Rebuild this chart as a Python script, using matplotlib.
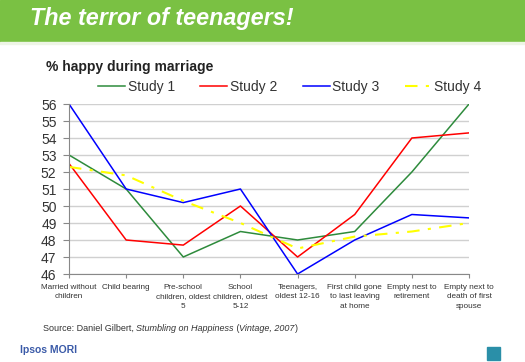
import matplotlib
matplotlib.use("Agg")
from matplotlib import pyplot as plt
from matplotlib.patches import Rectangle
import numpy as np

plt.rcParams['font.family'] = ['Liberation Sans', 'DejaVu Sans']

# stages of marriage
categories = ['Married without\nchildren', 'Child bearing', 'Pre-school\nchildren, oldest\n5',
              'School\nchildren, oldest\n5-12', 'Teenagers,\noldest 12-16',
              'First child gone\nto last leaving\nat home', 'Empty nest to\nretirement',
              'Empty next to\ndeath of first\nspouse']
study1 = [53, 51, 47, 48.5, 48, 48.5, 52, 56]
study2 = [52.5, 48, 47.7, 50, 47, 49.5, 54, 54.3]
study3 = [56, 51, 50.2, 51, 46, 48, 49.5, 49.3]
study4 = [52.3, 51.8, 50.3, 49, 47.5, 48.2, 48.5, 49]
yticks = list(range(46, 57))

W, H = 525, 362
fig = plt.figure(figsize=(W / 100, H / 100), dpi=100)

# header band
fig.patches.append(Rectangle((0, 1 - 42 / H), 1, 42 / H, transform=fig.transFigure,
                             color='#7ac143', zorder=0))
fig.patches.append(Rectangle((0, 1 - 44 / H), 1, 2 / H, transform=fig.transFigure,
                             color='#eef5e6', zorder=0))
fig.text(30 / W, 1 - 18 / H, 'The terror of teenagers!', color='white', fontsize=16.8,
         fontweight='bold', fontstyle='italic', va='center', ha='left')

fig.text(46 / W, 1 - 67 / H, '% happy during marriage', fontsize=10, fontweight='bold',
         color='#222222', va='center')

ax = fig.add_axes([69 / W, 1 - 274 / H, 400 / W, 170 / H])
x = np.arange(len(categories))
l1, = ax.plot(x, study1, color='#2e8b3c', lw=1.1)
l2, = ax.plot(x, study2, color='#ff0000', lw=1.1)
l3, = ax.plot(x, study3, color='#0000ff', lw=1.1)
l4, = ax.plot(x, study4, color='#ffff00', lw=1.5, dashes=(6, 4, 1.5, 4))

ax.set_xlim(0, len(categories) - 1)
ax.set_ylim(46, 56)
ax.set_yticks(yticks)
ax.set_xticks(x)
ax.set_xticklabels(categories, fontsize=5.9, color='#333333', linespacing=1.55)
ax.tick_params(axis='y', labelsize=10, colors='#333333', length=4, width=0.8,
               color='#888888', pad=5)
ax.tick_params(axis='x', length=3, color='#888888', pad=4)
ax.grid(axis='y', color='#d0d0d0', lw=1)
ax.set_axisbelow(True)
for s in ['top', 'right']:
    ax.spines[s].set_visible(False)
ax.spines['left'].set_color('#888888')
ax.spines['bottom'].set_color('#888888')

fig.legend([l1, l2, l3, l4], ['Study 1', 'Study 2', 'Study 3', 'Study 4'], ncol=4,
           loc='center', bbox_to_anchor=(290 / W, 1 - 87 / H), frameon=False,
           fontsize=10, handlelength=1.95, columnspacing=1.8, handletextpad=0.2,
           labelcolor='#333333')

# source line, pieces placed one after another
src = [('Source: Daniel Gilbert, ', 'normal'), ('Stumbling on Happiness', 'italic'),
       (' (', 'normal'), ('Vintage, 2007', 'italic'), (')', 'normal')]
prev = fig.text(43 / W, 1 - 331 / H, src[0][0], fontsize=6.5, color='#333333',
                va='baseline')
for txt, style in src[1:]:
    prev = ax.annotate(txt, xy=(1, 0), xycoords=prev, va='bottom', ha='left',
                       fontsize=6.5, color='#333333', fontstyle=style,
                       annotation_clip=False)

fig.text(20 / W, 1 - 350 / H, 'Ipsos MORI', fontsize=7.5, fontweight='bold', color='#3a5aa8',
         va='center')
fig.patches.append(Rectangle((487 / W, 1 - 360 / H), 13 / W, 13 / H,
                             transform=fig.transFigure, color='#2a8fa8', zorder=0))

fig.savefig('out.png', dpi=100)
